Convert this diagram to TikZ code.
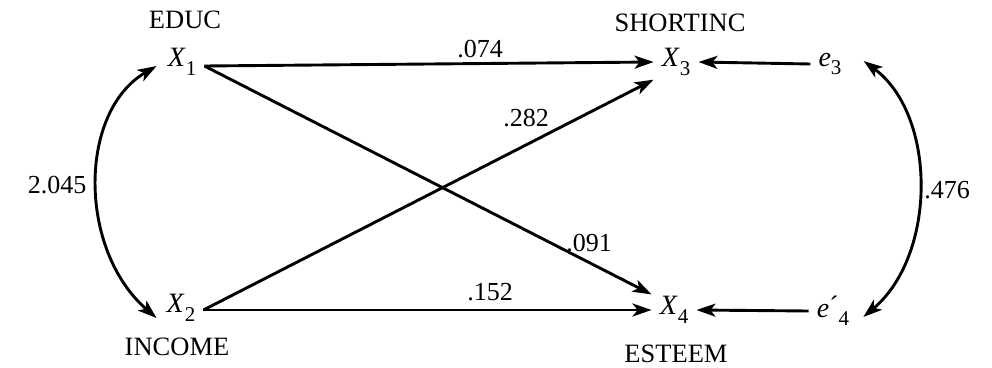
\documentclass[tikz,border=0pt]{standalone}
\usepackage{fontspec}
\setmainfont{Liberation Serif}
\usetikzlibrary{arrows.meta}
\newcommand{\vlab}[2]{\textit{#1}\raisebox{-0.3em}{\fontsize{21}{22}\selectfont #2}}
\begin{document}
\begin{tikzpicture}[x=1pt,y=-1pt,
  every node/.style={font=\fontsize{27}{30}\selectfont, inner sep=3pt},
  var/.style={inner xsep=8pt, inner ysep=4pt, font=\fontsize{28}{30}\selectfont},
  vname/.style={font=\fontsize{26.5}{28}\selectfont},
  coef/.style={font=\fontsize{26}{28}\selectfont, inner sep=0pt},
  patharrow/.style={line width=2.9pt, -{Stealth[length=19pt,width=13pt,inset=5pt]}},
  covarrow/.style={line width=2.9pt, {Stealth[length=19pt,width=13pt,inset=5pt]}-{Stealth[length=19pt,width=13pt,inset=5pt]}}
]
\useasboundingbox (0,0) rectangle (992,367);
% variables
\node[var] (X1) at (182,62) {\vlab{X}{1}};
\node[var] (X2) at (181,308) {\vlab{X}{2}};
\node[var] (X3) at (676,62) {\vlab{X}{3}};
\node[var] (X4) at (674,310) {\vlab{X}{4}};
\node[var] (e3) at (830,64) {\vlab{e}{3}};
\node[var] (e4) at (833,311) {\textit{e}\raisebox{0.05em}{\textasciiacute}\raisebox{-0.3em}{\fontsize{21}{22}\selectfont 4}};
% names
\node[vname] (n1) at (185,20) {EDUC};
\node[vname] (n2) at (177,347) {INCOME};
\node[vname] (n3) at (680,23) {SHORTINC};
\node[vname] (n4) at (676,354) {ESTEEM};
% paths
\draw[patharrow] ([yshift=-4pt]X1.east) -- (X3.west);
\draw[patharrow] ([yshift=-4pt]X1.east) -- ([yshift=-2pt]X4.north west);
\draw[patharrow] ([yshift=-2pt]X2.east) -- (X3.south west);
\draw[patharrow] ([yshift=-2pt]X2.east) -- (X4.west);
\draw[patharrow] (e3.west) -- (X3.east);
\draw[patharrow] (e4.west) -- (X4.east);
% covariances
\draw[covarrow] ([xshift=-3pt,yshift=-4pt]X1.west) .. controls (78,112) and (78,250) .. ([xshift=-2pt,yshift=-10pt]X2.west);
\draw[covarrow] ([xshift=14pt,yshift=3pt]e3.east) .. controls (937,115) and (937,255) .. ([xshift=6pt,yshift=-6pt]e4.east);
% coefficients
\node[coef] (c1) at (480,49) {.074};
\node[coef] (c2) at (526,118) {.282};
\node[coef] (c3) at (589,243) {.091};
\node[coef] (c4) at (490,292) {.152};
\node[coef] (c5) at (57,185) {2.045};
\node[coef] (c6) at (947,190) {.476};
\end{tikzpicture}
\end{document}
